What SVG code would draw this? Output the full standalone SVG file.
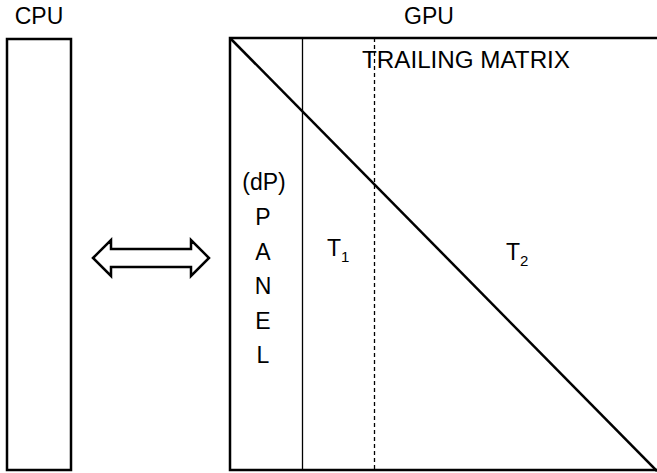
<svg xmlns="http://www.w3.org/2000/svg" width="657" height="473" viewBox="0 0 657 473">
<style>
text{font-family:"Liberation Sans",Arial,sans-serif;font-size:23px;fill:#000}
.box{fill:none;stroke:#000;stroke-width:2.5}
.thin{stroke:#000;stroke-width:1.3;fill:none}
.dash{stroke:#000;stroke-width:1.3;stroke-dasharray:4 3;fill:none}
.sub{font-size:15px}
</style>
<rect width="657" height="473" fill="#fff"/>
<g id="cpu">
<rect class="box" x="7" y="39" width="64" height="431"/>
<text x="39" y="24" text-anchor="middle">CPU</text>
</g>
<g id="gpu">
<rect class="box" x="230" y="38" width="432" height="432"/>
<text x="429" y="24" text-anchor="middle">GPU</text>
<line class="thin" x1="302.5" y1="38" x2="302.5" y2="470"/>
<line class="dash" x1="374.5" y1="38" x2="374.5" y2="470"/>
<line class="box" x1="230" y1="38" x2="657" y2="471"/>
<text x="362" y="68" textLength="208" lengthAdjust="spacingAndGlyphs">TRAILING MATRIX</text>
</g>
<g id="panel">
<text x="264" y="190" text-anchor="middle">(dP)</text>
<text x="263" y="225" text-anchor="middle">P</text>
<text x="263" y="260" text-anchor="middle">A</text>
<text x="263" y="294" text-anchor="middle">N</text>
<text x="263" y="329" text-anchor="middle">E</text>
<text x="263" y="363" text-anchor="middle">L</text>
</g>
<g id="t1">
<text x="327" y="256">T<tspan class="sub" dy="6">1</tspan></text>
</g>
<g id="t2">
<text x="506" y="260">T<tspan class="sub" dy="6">2</tspan></text>
</g>
<g id="connectors">
<polygon class="box" fill="#fff" points="93,258 111,240 111,249 191,249 191,240 209,258 191,276 191,267 111,267 111,276"/>
</g>
</svg>
